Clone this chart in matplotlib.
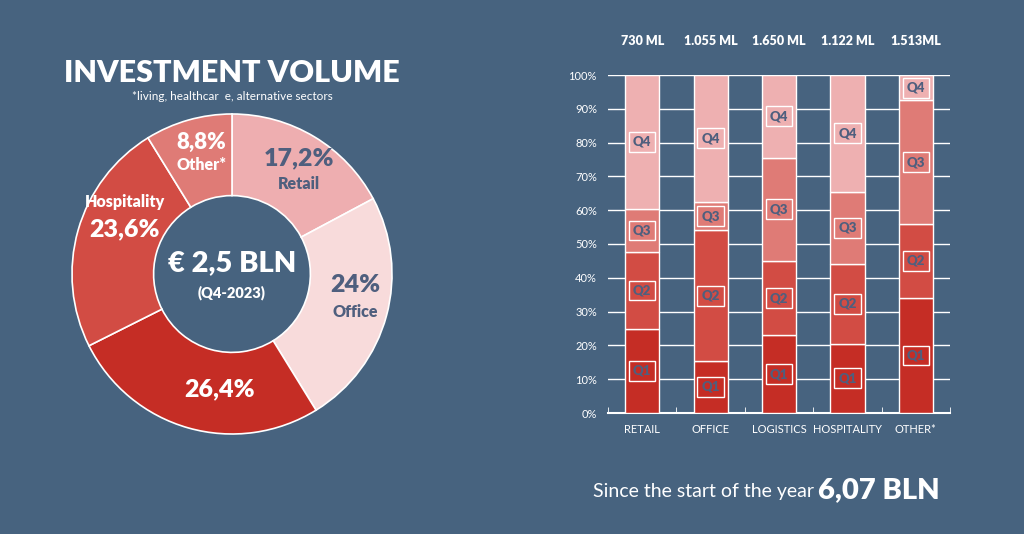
import matplotlib.pyplot as plt
import numpy as np

plt.rcParams['font.family'] = ['Lato', 'DejaVu Sans']

# donut data (clockwise from top)
sectors = ['Retail', 'Office', 'Logistics', 'Hospitality', 'Other*']
shares = [17.2, 24.0, 26.4, 23.6, 8.8]

# stacked bars: quarter shares in %
categories = ['RETAIL', 'OFFICE', 'LOGISTICS', 'HOSPITALITY', 'OTHER*']
q1 = [25.0, 15.5, 23.0, 20.5, 34.0]
q2 = [22.5, 38.5, 22.0, 23.5, 22.0]
q3 = [13.0, 8.5, 30.5, 21.5, 36.5]
q4 = [39.5, 37.5, 24.5, 34.5, 7.5]
totals = ['730 ML', '1.055 ML', '1.650 ML', '1.122 ML', '1.513ML']

bg = '#47637f'
qcols = ['#c52d25', '#d24c44', '#df7b76', '#eeb0b1']
pie_cols = ['#eeaeb0', '#f8dbdb', '#c52d25', '#d24c44', '#df7b76']
txt_dark = '#4f5f7e'
hw = 'heavy'

fig = plt.figure(figsize=(10.24, 5.34), dpi=100, facecolor=bg)

# ---- donut ----
ax1 = fig.add_axes([72/1024, 100/534, 320/1024, 320/534])
ax1.set_facecolor(bg)
ax1.pie(shares, colors=pie_cols, startangle=90, counterclock=False,
        wedgeprops=dict(width=0.51, edgecolor='white', linewidth=1.2))
ax1.set_xlim(-1, 1)
ax1.set_ylim(-1, 1)
ax1.set_aspect('equal')

ax1.text(0.0, 0.07, '€ 2,5 BLN', color='white', fontsize=21, fontweight=hw, ha='center', va='center')
ax1.text(0.0, -0.12, '(Q4-2023)', color='white', fontsize=10.5, fontweight=hw, ha='center', va='center')
ax1.text(0.42, 0.72, '17,2%', color=txt_dark, fontsize=18, fontweight=hw, ha='center', va='center')
ax1.text(0.42, 0.56, 'Retail', color=txt_dark, fontsize=11.5, fontweight=hw, ha='center', va='center')
ax1.text(0.77, -0.07, '24%', color=txt_dark, fontsize=18, fontweight=hw, ha='center', va='center')
ax1.text(0.77, -0.24, 'Office', color=txt_dark, fontsize=11.5, fontweight=hw, ha='center', va='center')
ax1.text(-0.08, -0.72, '26,4%', color='white', fontsize=18, fontweight=hw, ha='center', va='center')
ax1.text(-0.67, 0.45, 'Hospitality', color='white', fontsize=11.5, fontweight=hw, ha='center', va='center')
ax1.text(-0.67, 0.28, '23,6%', color='white', fontsize=18, fontweight=hw, ha='center', va='center')
ax1.text(-0.19, 0.82, '8,8%', color='white', fontsize=16, fontweight=hw, ha='center', va='center')
ax1.text(-0.19, 0.68, 'Other*', color='white', fontsize=11.5, fontweight=hw, ha='center', va='center')

fig.text(232/1024, 1 - 73/534, 'INVESTMENT VOLUME', color='white', fontsize=22, fontweight=hw, ha='center', va='center')
fig.text(232/1024, 1 - 96/534, '*living, healthcar  e, alternative sectors', color='white', fontsize=8.5, ha='center', va='center')

# ---- stacked bars ----
ax2 = fig.add_axes([608/1024, 121/534, 342/1024, 338/534])
ax2.set_facecolor(bg)
x = np.arange(len(categories))
bottom = np.zeros(len(categories))
for qi, (vals, col) in enumerate(zip([q1, q2, q3, q4], qcols)):
    vals = np.array(vals)
    ax2.bar(x, vals, 0.5, bottom=bottom, color=col, edgecolor='white', linewidth=1, zorder=3)
    for xi, b, v in zip(x, bottom, vals):
        ax2.text(xi, b + v / 2, f'Q{qi + 1}', color=txt_dark, fontsize=9.5, fontweight=hw,
                 ha='center', va='center', zorder=4,
                 bbox=dict(boxstyle='square,pad=0.3', facecolor=col, edgecolor='white', linewidth=1))
    bottom += vals

ax2.set_xlim(-0.5, 4.5)
ax2.set_ylim(0, 100)
ax2.set_yticks(np.arange(0, 101, 10))
ax2.set_yticklabels([f'{v}%' for v in range(0, 101, 10)])
ax2.grid(axis='y', color='white', linewidth=1, zorder=0)
ax2.set_xticks(x)
ax2.set_xticklabels(categories)
ax2.tick_params(axis='y', length=0, colors='white', labelsize=8, pad=8)
ax2.tick_params(axis='x', length=0, colors='white', labelsize=8, pad=8)
ax2.set_xticks(np.arange(-0.5, 5, 1), minor=True)
ax2.tick_params(axis='x', which='minor', length=4, color='white', direction='in')
for s in ['top', 'right', 'left']:
    ax2.spines[s].set_visible(False)
ax2.spines['bottom'].set_color('white')
ax2.spines['bottom'].set_linewidth(1.5)

for xi, t in zip(x, totals):
    ax2.text(xi, 110, t, color='white', fontsize=9, fontweight=hw, ha='center', va='center')

fig.text(593/1024, 1 - 492/534, 'Since the start of the year', color='white', fontsize=14, ha='left', va='center')
fig.text(940/1024, 1 - 490/534, '6,07 BLN', color='white', fontsize=21, fontweight=hw, ha='right', va='center')

fig.savefig('out.png', dpi=100, facecolor=bg)
